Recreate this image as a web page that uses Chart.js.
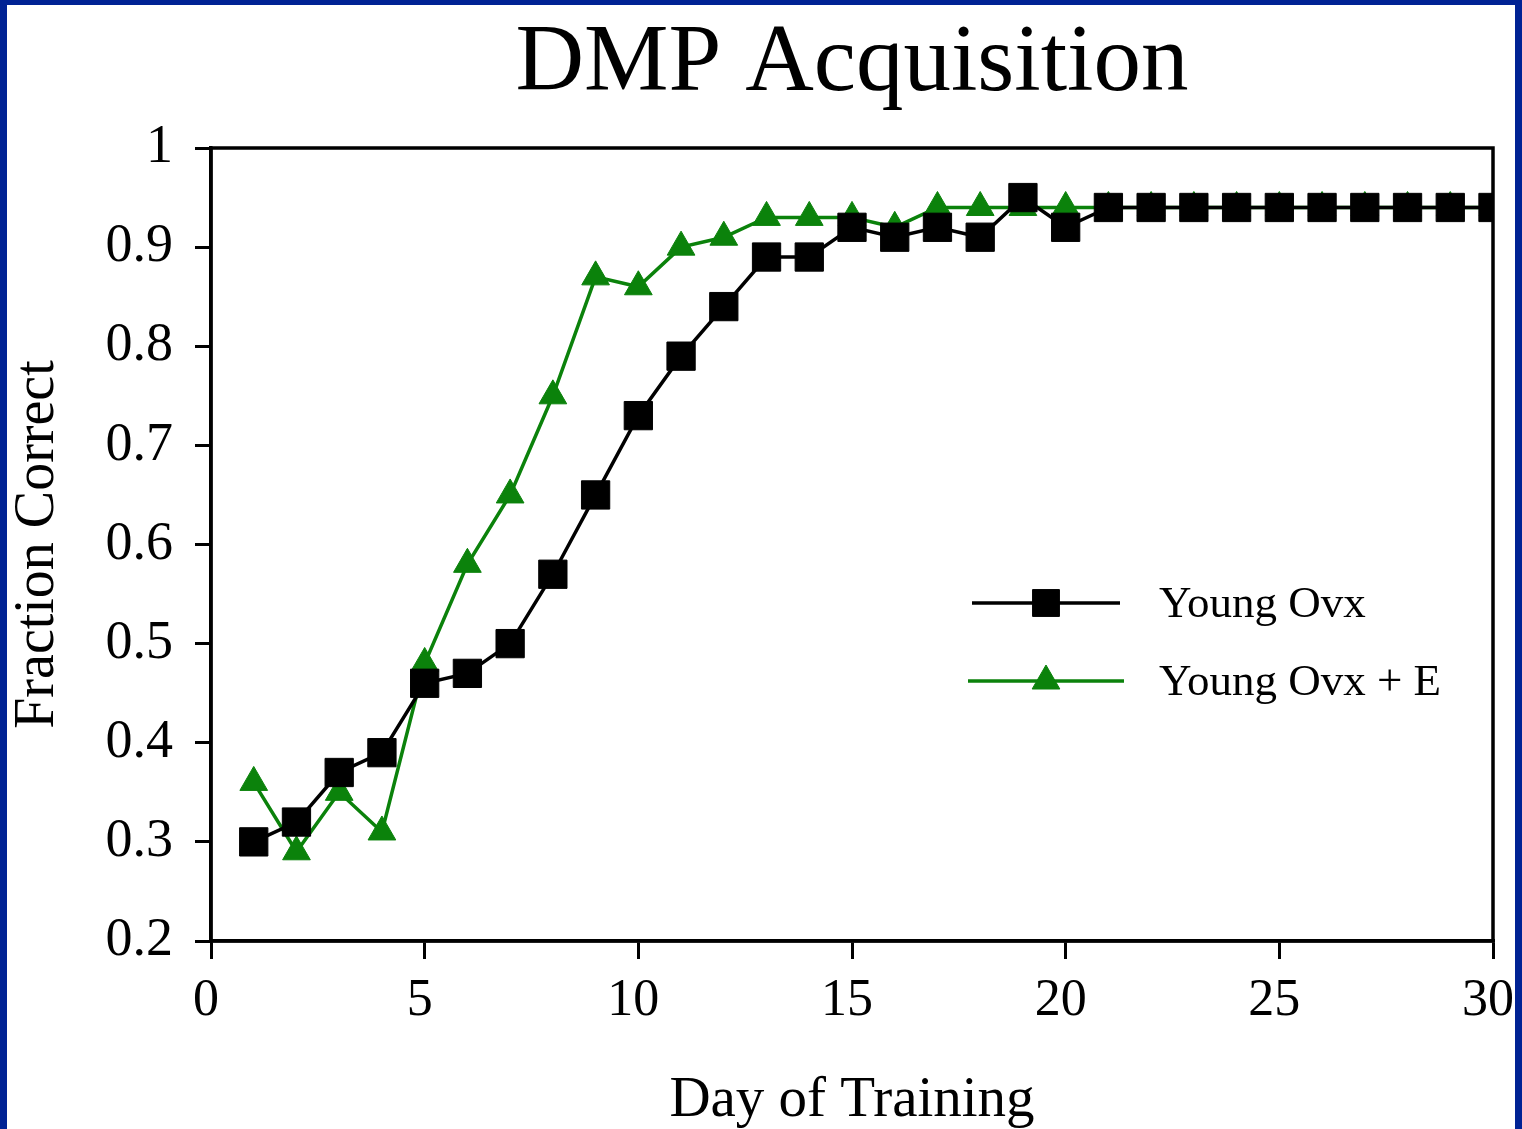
<!DOCTYPE html>
<html>
<head>
<meta charset="utf-8">
<script src="https://cdn.jsdelivr.net/npm/chart.js@4.4.0/dist/chart.umd.min.js"></script>
<style>
  html, body { margin: 0; padding: 0; background: #002294; overflow: hidden; }
  #frame {
    position: absolute; left: 0; top: 0; width: 1522px; height: 1129px;
    box-sizing: border-box; border-left: 7px solid #002294; border-top: 5px solid #002294;
    border-right: 7px solid #002294; background: #fff;
  }
  #wrap { position: relative; width: 1508px; height: 1124px; }
</style>
</head>
<body>
<div id="frame"><div id="wrap"><canvas id="chart"></canvas></div></div>
<script>
// --- DATA ---
const days = [1,2,3,4,5,6,7,8,9,10,11,12,13,14,15,16,17,18,19,20,21,22,23,24,25,26,27,28,29,30];
const youngOvx = [0.30,0.32,0.37,0.39,0.46,0.47,0.50,0.57,0.65,0.73,0.79,0.84,0.89,0.89,0.92,0.91,0.92,0.91,0.95,0.92,0.94,0.94,0.94,0.94,0.94,0.94,0.94,0.94,0.94,0.94];
const youngOvxE = [0.36,0.29,0.35,0.31,0.48,0.58,0.65,0.75,0.87,0.86,0.90,0.91,0.93,0.93,0.93,0.92,0.94,0.94,0.94,0.94,0.94,0.94,0.94,0.94,0.94,0.94,0.94,0.94,0.94,0.94];
const xTicks = [0,5,10,15,20,25,30];
const yTicks = [0.2,0.3,0.4,0.5,0.6,0.7,0.8,0.9,1];

const FONT = "'Liberation Serif', 'Times New Roman', serif";
const GREEN = '#0b820b';

// box round the plot + legend inside it
const framePlugin = {
    id: 'framePlugin',
    afterDatasetsDraw(chart) {
        const { ctx, chartArea: a } = chart;
        ctx.save();
        ctx.strokeStyle = '#000';
        ctx.lineWidth = 3.5;
        ctx.strokeRect(a.left, a.top, a.right - a.left, a.bottom - a.top);

        // legend
        const items = [
            { ds: chart.data.datasets[0], x1: 965, x2: 1113, y: 598 },
            { ds: chart.data.datasets[1], x1: 961, x2: 1117, y: 676 }
        ];
        items.forEach(it => {
            ctx.strokeStyle = it.ds.borderColor;
            ctx.fillStyle = it.ds.backgroundColor;
            ctx.lineWidth = 3.5;
            ctx.beginPath();
            ctx.moveTo(it.x1, it.y);
            ctx.lineTo(it.x2, it.y);
            ctx.stroke();
            ctx.lineWidth = 1;
            Chart.helpers.drawPoint(ctx, {
                pointStyle: it.ds.pointStyle,
                radius: it.ds.pointStyle === 'rect' ? 19 : 16,
                borderWidth: 1
            }, (it.x1 + it.x2) / 2, it.y);
            ctx.fillStyle = '#000';
            ctx.font = "45px " + FONT;
            ctx.textBaseline = 'middle';
            ctx.textAlign = 'left';
            ctx.fillText(it.ds.label, 1152, it.y + 2);
        });
        ctx.restore();
    }
};

const ctx = document.getElementById('chart').getContext('2d');
const myChart = new Chart(ctx, {
    type: 'line',
    data: {
        datasets: [
            {
                label: 'Young Ovx',
                data: days.map((d, i) => ({ x: d, y: youngOvx[i] })),
                borderColor: '#000', backgroundColor: '#000',
                pointStyle: 'rect', pointRadius: 20, pointBorderWidth: 1,
                borderWidth: 3.5, tension: 0
            },
            {
                label: 'Young Ovx + E',
                data: days.map((d, i) => ({ x: d, y: youngOvxE[i] })),
                borderColor: GREEN, backgroundColor: GREEN,
                pointStyle: 'triangle', pointRadius: 16, pointBorderWidth: 1,
                borderWidth: 3.5, tension: 0
            }
        ]
    },
    options: {
        responsive: true,
        maintainAspectRatio: false,
        animation: false,
        layout: { padding: { left: 0, right: 22, top: 0, bottom: 0 } },
        plugins: {
            legend: { display: false },
            tooltip: { enabled: false },
            title: {
                display: true,
                fullSize: false,
                text: 'DMP Acquisition',
                color: '#000',
                font: { family: FONT, size: 95, weight: 'normal' },
                padding: { top: 3, bottom: 26 }
            }
        },
        scales: {
            x: {
                type: 'linear', min: 0, max: 30,
                afterBuildTicks: s => { s.ticks = xTicks.map(v => ({ value: v })); },
                ticks: { color: '#000', font: { family: FONT, size: 52 }, padding: 11, maxRotation: 0, labelOffset: -5 },
                grid: { drawOnChartArea: false, color: '#000', lineWidth: 3, tickLength: 18 },
                border: { color: '#000', width: 3.5 },
                title: { display: true, text: 'Day of Training', color: '#000', font: { family: FONT, size: 57 }, padding: { top: 30, bottom: -6 } },
                afterFit: s => { s.height = 188; s.paddingLeft = 0; s.paddingRight = 0; }
            },
            y: {
                type: 'linear', min: 0.2, max: 1,
                afterBuildTicks: s => { s.ticks = yTicks.map(v => ({ value: v })); },
                ticks: { color: '#000', font: { family: FONT, size: 54 }, padding: 22,
                    callback: v => String(Math.round(v * 10) / 10) },
                grid: { drawOnChartArea: false, color: '#000', lineWidth: 3, tickLength: 16 },
                border: { color: '#000', width: 3.5 },
                title: { display: true, text: 'Fraction Correct', color: '#000', font: { family: FONT, size: 56 }, padding: { top: -2, bottom: 10 } },
                afterFit: s => { s.width = 204; s.paddingTop = 0; s.paddingBottom = 0; }
            }
        }
    },
    plugins: [framePlugin]
});
</script>
</body>
</html>
